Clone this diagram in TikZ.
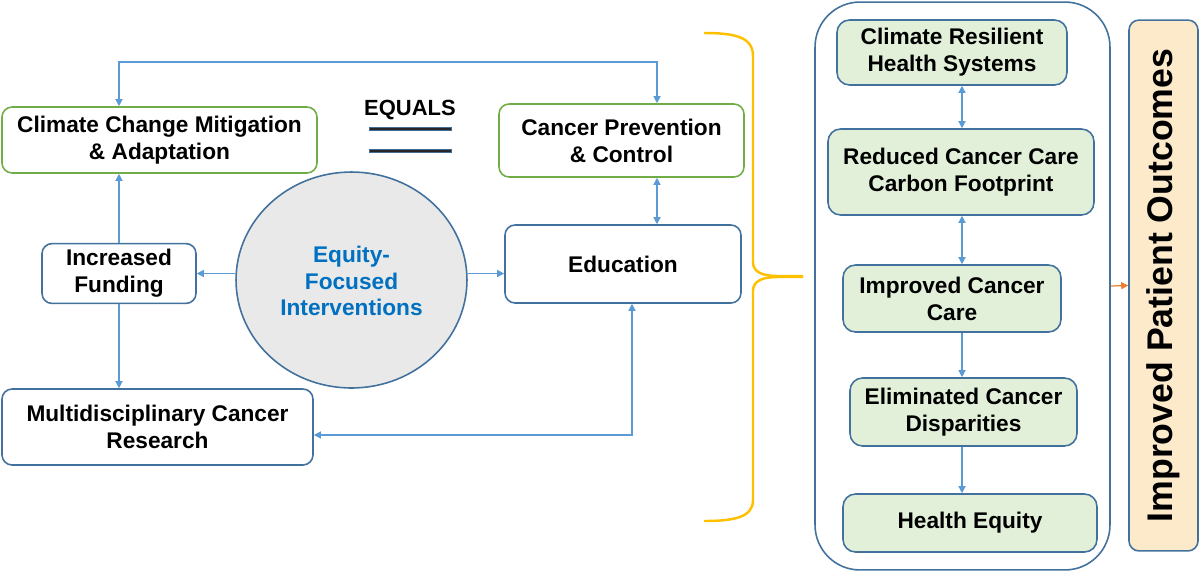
\documentclass[tikz,border=0pt]{standalone}
\usepackage{fontspec}
\setmainfont{Liberation Sans}
\usetikzlibrary{arrows.meta,shapes.geometric}
\definecolor{linkblue}{HTML}{5B9BD5}
\definecolor{boxblue}{HTML}{41719C}
\definecolor{leafgreen}{HTML}{70AD47}
\definecolor{goalfill}{HTML}{E2F0D9}
\definecolor{discgray}{HTML}{E9E9E9}
\definecolor{outfill}{HTML}{FDEACB}
\definecolor{braceyellow}{HTML}{FFC000}
\definecolor{equityblue}{HTML}{0070C0}
\definecolor{arroworange}{HTML}{ED7D31}
\tikzset{every node/.style={font=\bfseries\fontsize{12.9}{15.3}\selectfont,align=center}}
\tikzset{
  box/.style={draw=boxblue,line width=0.9pt,rounded corners=0.2cm,fill=white},
  greenbox/.style={box,draw=leafgreen},
  goalbox/.style={box,fill=goalfill,rounded corners=0.25cm},
  link/.style={draw=linkblue,line width=0.7pt,>={Triangle[length=4pt,width=4pt]}},
  eqbar/.style={line width=2.8pt,draw=linkblue!70!black}
}

\begin{document}
\begin{tikzpicture}[x=0.02cm,y=-0.02cm]
  \useasboundingbox (0,0) rectangle (1200,572);
  % left half
  \node[greenbox,minimum width=6.3cm,minimum height=1.32cm] (clim) at (159.5,140)
     {Climate Change Mitigation\\\& Adaptation};
  \node[greenbox,minimum width=4.9cm,minimum height=1.46cm] (prev) at (621.5,140.5)
     {Cancer Prevention\\\& Control};
  \node[box,minimum width=3.08cm,minimum height=1.18cm] (fund) at (119,273.5)
     {Increased\\Funding};
  \node[box,minimum width=4.72cm,minimum height=1.56cm] (educ) at (623,264) {Education};
  \node[box,minimum width=6.22cm,minimum height=1.52cm] (res) at (157.5,427)
     {Multidisciplinary Cancer\\Research};
  \node[ellipse,draw=boxblue,line width=0.9pt,fill=discgray,inner sep=0pt,
     minimum width=4.62cm,minimum height=4.32cm] (eq) at (351.5,280) {};
  \node[text=equityblue] (eqtext) at (351.5,281) {Equity-\\Focused\\Interventions};
  \node[font=\bfseries\fontsize{12.5}{15}\selectfont] (equals) at (410,110) {EQUALS};
  \foreach \y in {129,151} {
    \draw[eqbar] (369,\y) -- (452,\y);
    \draw[line width=1.6pt,black!85] (370,\y) -- (451,\y);
  }
  \coordinate (loopL) at (119,62);
  \coordinate (loopR) at (657,62);
  \coordinate (lowR) at (632,435);
  \draw[link,<->] (loopL |- clim.north) -- (loopL) -- (loopR) -- (loopR |- prev.north);
  \draw[link,<->] (loopR |- prev.south) -- (loopR |- educ.north);
  \draw[link,->] (fund.north) -- (fund |- clim.south);
  \draw[link,->] (fund.south) -- (fund |- res.north);
  \draw[link,->] (eq.west |- fund.east) -- (fund.east);
  \draw[link,->] (eq.east |- fund.east) -- (educ.west |- fund.east);
  \draw[link,<->] (res.east |- lowR) -- (lowR) -- (lowR |- educ.south);
  % brace
  \draw[braceyellow,line width=1.4pt]
    (704,33) .. controls (735,33) and (753,37) .. (753,56) -- (753,262)
    .. controls (753,272) and (762,276) .. (778,276) -- (803,276);
  \draw[braceyellow,line width=1.4pt]
    (803,277) -- (778,277) .. controls (762,277) and (753,281) .. (753,291)
    -- (753,500) .. controls (753,517) and (735,521) .. (704,521);
  % right half
  \node[draw=boxblue,line width=0.9pt,rounded corners=0.9cm,
     minimum width=5.9cm,minimum height=11.36cm] (cont) at (962.5,286) {};
  \node[goalbox,minimum width=4.6cm,minimum height=1.3cm] (crhs) at (952,52.5)
     {Climate Resilient\\Health Systems};
  \node[goalbox,minimum width=5.32cm,minimum height=1.72cm] (rccf) at (961,172)
     {Reduced Cancer Care\\Carbon Footprint};
  \node[goalbox,minimum width=4.36cm,minimum height=1.34cm] (icc) at (952,298.5)
     {Improved Cancer\\Care};
  \node[goalbox,minimum width=4.54cm,minimum height=1.36cm] (ecd) at (963.5,412)
     {Eliminated Cancer\\Disparities};
  \node[goalbox,minimum width=5.08cm,minimum height=1.16cm] (heq) at (970,523)
     {Health Equity};
  \coordinate (colx) at (962,0);
  \draw[link,<->] (colx |- crhs.south) -- (colx |- rccf.north);
  \draw[link,<->] (colx |- rccf.south) -- (colx |- icc.north);
  \draw[link,->] (colx |- icc.south) -- (colx |- ecd.north);
  \draw[link,->] (colx |- ecd.south) -- (colx |- heq.north);
  \node[box,fill=outfill,rotate=90,minimum width=10.62cm,minimum height=1.38cm,
     font=\bfseries\fontsize{20.3}{24}\selectfont] (outc) at (1163.5,285.5)
     {Improved Patient Outcomes};
  \draw[link,draw=arroworange,->] (cont.east) -- (outc.north);
\end{tikzpicture}
\end{document}
